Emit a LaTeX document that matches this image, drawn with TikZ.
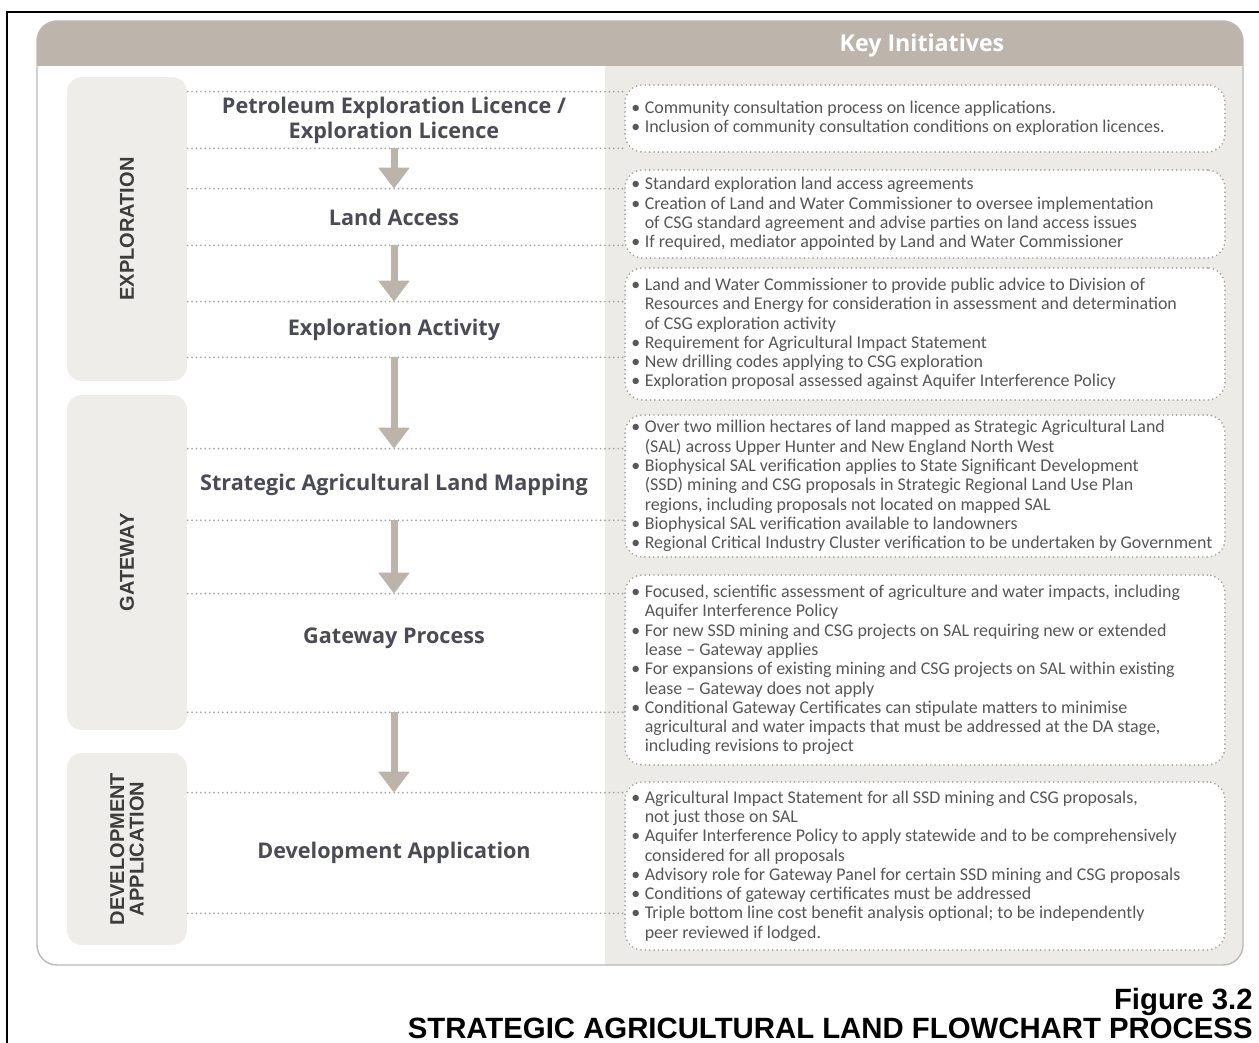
\documentclass[tikz,border=0pt]{standalone}
\usepackage{fontspec}
\setmainfont{Carlito}
\newfontfamily\stagefont{Open Sans}
\newfontfamily\phasefont{Liberation Sans}
\usetikzlibrary{arrows.meta,positioning,calc}

\definecolor{headgray}{HTML}{BDB5AC}
\definecolor{panelgray}{HTML}{EDEBE8}
\definecolor{phasegray}{HTML}{EEEDEA}
\definecolor{dotgray}{HTML}{A9A49E}
\definecolor{arrowgray}{HTML}{BCB4AB}
\definecolor{stagecol}{HTML}{4B4B55}
\definecolor{bulletcol}{HTML}{575757}
\definecolor{phasecol}{HTML}{3C3C3C}

\newcommand\bul{\makebox[7.6pt][l]{\textbullet}}
\newcommand\ind{\hspace*{7.6pt}}

\begin{document}
\begin{tikzpicture}[
    x=0.02cm, y=-0.02cm,
    phase/.style={rounded corners=0.3cm, fill=phasegray, rotate=90, minimum height=2.4cm, align=center,
        font=\phasefont\bfseries\fontsize{11.4}{11}\selectfont, text=phasecol},
    stage/.style={minimum width=8.24cm, inner sep=0pt, align=center,
        font=\stagefont\bfseries\fontsize{12.3}{14.2}\selectfont, text=stagecol},
    dotline/.style={draw=dotgray, line width=1.1pt, dash pattern=on 0pt off 2.5pt, line cap=round},
    keybox/.style={dotline, fill=white, rounded corners=0.35cm, minimum width=12cm},
    bullets/.style={anchor=west, align=left, inner sep=0pt,
        font=\fontsize{10.2}{11}\selectfont, text=bulletcol},
    flow/.style={draw=arrowgray, line width=0.14cm, -{Triangle[width=0.6cm, length=0.42cm]}},
    caption/.style={anchor=base east, inner sep=0pt, font=\phasefont\bfseries\fontsize{16.7}{20}\selectfont}
]

% Page and frame
\fill[white] (0,0) rectangle (1259,1043);
\useasboundingbox (0,0) rectangle (1259,1043);
\draw[line width=1.2pt] (7,1060) -- (7,12) -- (1270,12);

% Panel
\begin{scope}
    \clip[rounded corners=0.4cm] (37,21) rectangle (1243,965);
    \fill[white] (37,21) rectangle (1243,965);
    \fill[panelgray] (605,66) rectangle (1243,965);
    \fill[headgray] (37,21) rectangle (1243,66);
\end{scope}
\draw[gray!55, line width=0.8pt, rounded corners=0.4cm] (37,21) rectangle (1243,965);
\node[font=\stagefont\bfseries\fontsize{13.2}{15}\selectfont, text=white] (title) at (922,45) {Key Initiatives};

% Phases
\node[phase, minimum width=6.08cm] (p1) at (127,229) {EXPLORATION};
\node[phase, minimum width=6.7cm] (p2) at (127,562.5) {GATEWAY};
\node[phase, minimum width=3.84cm] (p3) at (127,849) {DEVELOPMENT\\APPLICATION};

% Stages
\node[stage, minimum height=1.12cm] (s1) at (394,120) {Petroleum Exploration Licence /\\Exploration Licence};
\node[stage, minimum height=1.12cm] (s2) at (394,217) {Land Access};
\node[stage, minimum height=1.1cm] (s3) at (394,329.5) {Exploration Activity};
\node[stage, minimum height=1.42cm] (s4) at (394,484.5) {Strategic Agricultural Land Mapping};
\node[stage, minimum height=2.36cm, text depth=0.7cm] (s5) at (394,653) {Gateway Process};
\node[stage, minimum height=2.4cm] (s6) at (394,853) {Development Application};

% Key initiative boxes
\foreach \n/\y/\h in {1/118.5/1.34, 2/214/1.76, 3/334/2.64, 4/486/2.84, 5/670/3.8, 6/866/3.36} {
    \node[keybox, minimum height=\h cm] (k\n) at (925,\y) {};
}

% Row lines
\foreach \n in {1,...,6} {
    \draw[dotline] (s\n.north west) -- (k\n.west |- s\n.north);
    \draw[dotline] (s\n.south west) -- (k\n.west |- s\n.south);
}

% Flow
\foreach \a/\b in {1/2,2/3,3/4,4/5,5/6} {
    \draw[flow] (s\a.south) -- (s\b.north);
}

% Bullet texts
\node[bullets] (t1) at ([xshift=0.14cm]k1.west) {\bul Community consultation process on licence applications.\\
\bul Inclusion of community consultation conditions on exploration licences.};
\node[bullets] (t2) at ([xshift=0.14cm]k2.west) {\bul Standard exploration land access agreements\\
\bul Creation of Land and Water Commissioner to oversee implementation\\
\ind of CSG standard agreement and advise parties on land access issues\\
\bul If required, mediator appointed by Land and Water Commissioner};
\node[bullets] (t3) at ([xshift=0.14cm]k3.west) {\bul Land and Water Commissioner to provide public advice to Division of\\
\ind Resources and Energy for consideration in assessment and determination\\
\ind of CSG exploration activity\\
\bul Requirement for Agricultural Impact Statement\\
\bul New drilling codes applying to CSG exploration\\
\bul Exploration proposal assessed against Aquifer Interference Policy};
\node[bullets] (t4) at ([xshift=0.14cm]k4.west) {\bul Over two million hectares of land mapped as Strategic Agricultural Land\\
\ind (SAL) across Upper Hunter and New England North West\\
\bul Biophysical SAL verification applies to State Significant Development\\
\ind (SSD) mining and CSG proposals in Strategic Regional Land Use Plan\\
\ind regions, including proposals not located on mapped SAL\\
\bul Biophysical SAL verification available to landowners\\
\bul Regional Critical Industry Cluster verification to be undertaken by Government};
\node[bullets] (t5) at ([xshift=0.14cm]k5.west) {\bul Focused, scientific assessment of agriculture and water impacts, including\\
\ind Aquifer Interference Policy\\
\bul For new SSD mining and CSG projects on SAL requiring new or extended\\
\ind lease – Gateway applies\\
\bul For expansions of existing mining and CSG projects on SAL within existing\\
\ind lease – Gateway does not apply\\
\bul Conditional Gateway Certificates can stipulate matters to minimise\\
\ind agricultural and water impacts that must be addressed at the DA stage,\\
\ind including revisions to project};
\node[bullets] (t6) at ([xshift=0.14cm]k6.west) {\bul Agricultural Impact Statement for all SSD mining and CSG proposals,\\
\ind not just those on SAL\\
\bul Aquifer Interference Policy to apply statewide and to be comprehensively\\
\ind considered for all proposals\\
\bul Advisory role for Gateway Panel for certain SSD mining and CSG proposals\\
\bul Conditions of gateway certificates must be addressed\\
\bul Triple bottom line cost benefit analysis optional; to be independently\\
\ind peer reviewed if lodged.};

% Caption
\node[caption] (fig) at (1253,1010) {Figure 3.2};
\node[caption] (figtitle) at (1253,1039) {STRATEGIC AGRICULTURAL LAND FLOWCHART PROCESS};

\end{tikzpicture}
\end{document}
